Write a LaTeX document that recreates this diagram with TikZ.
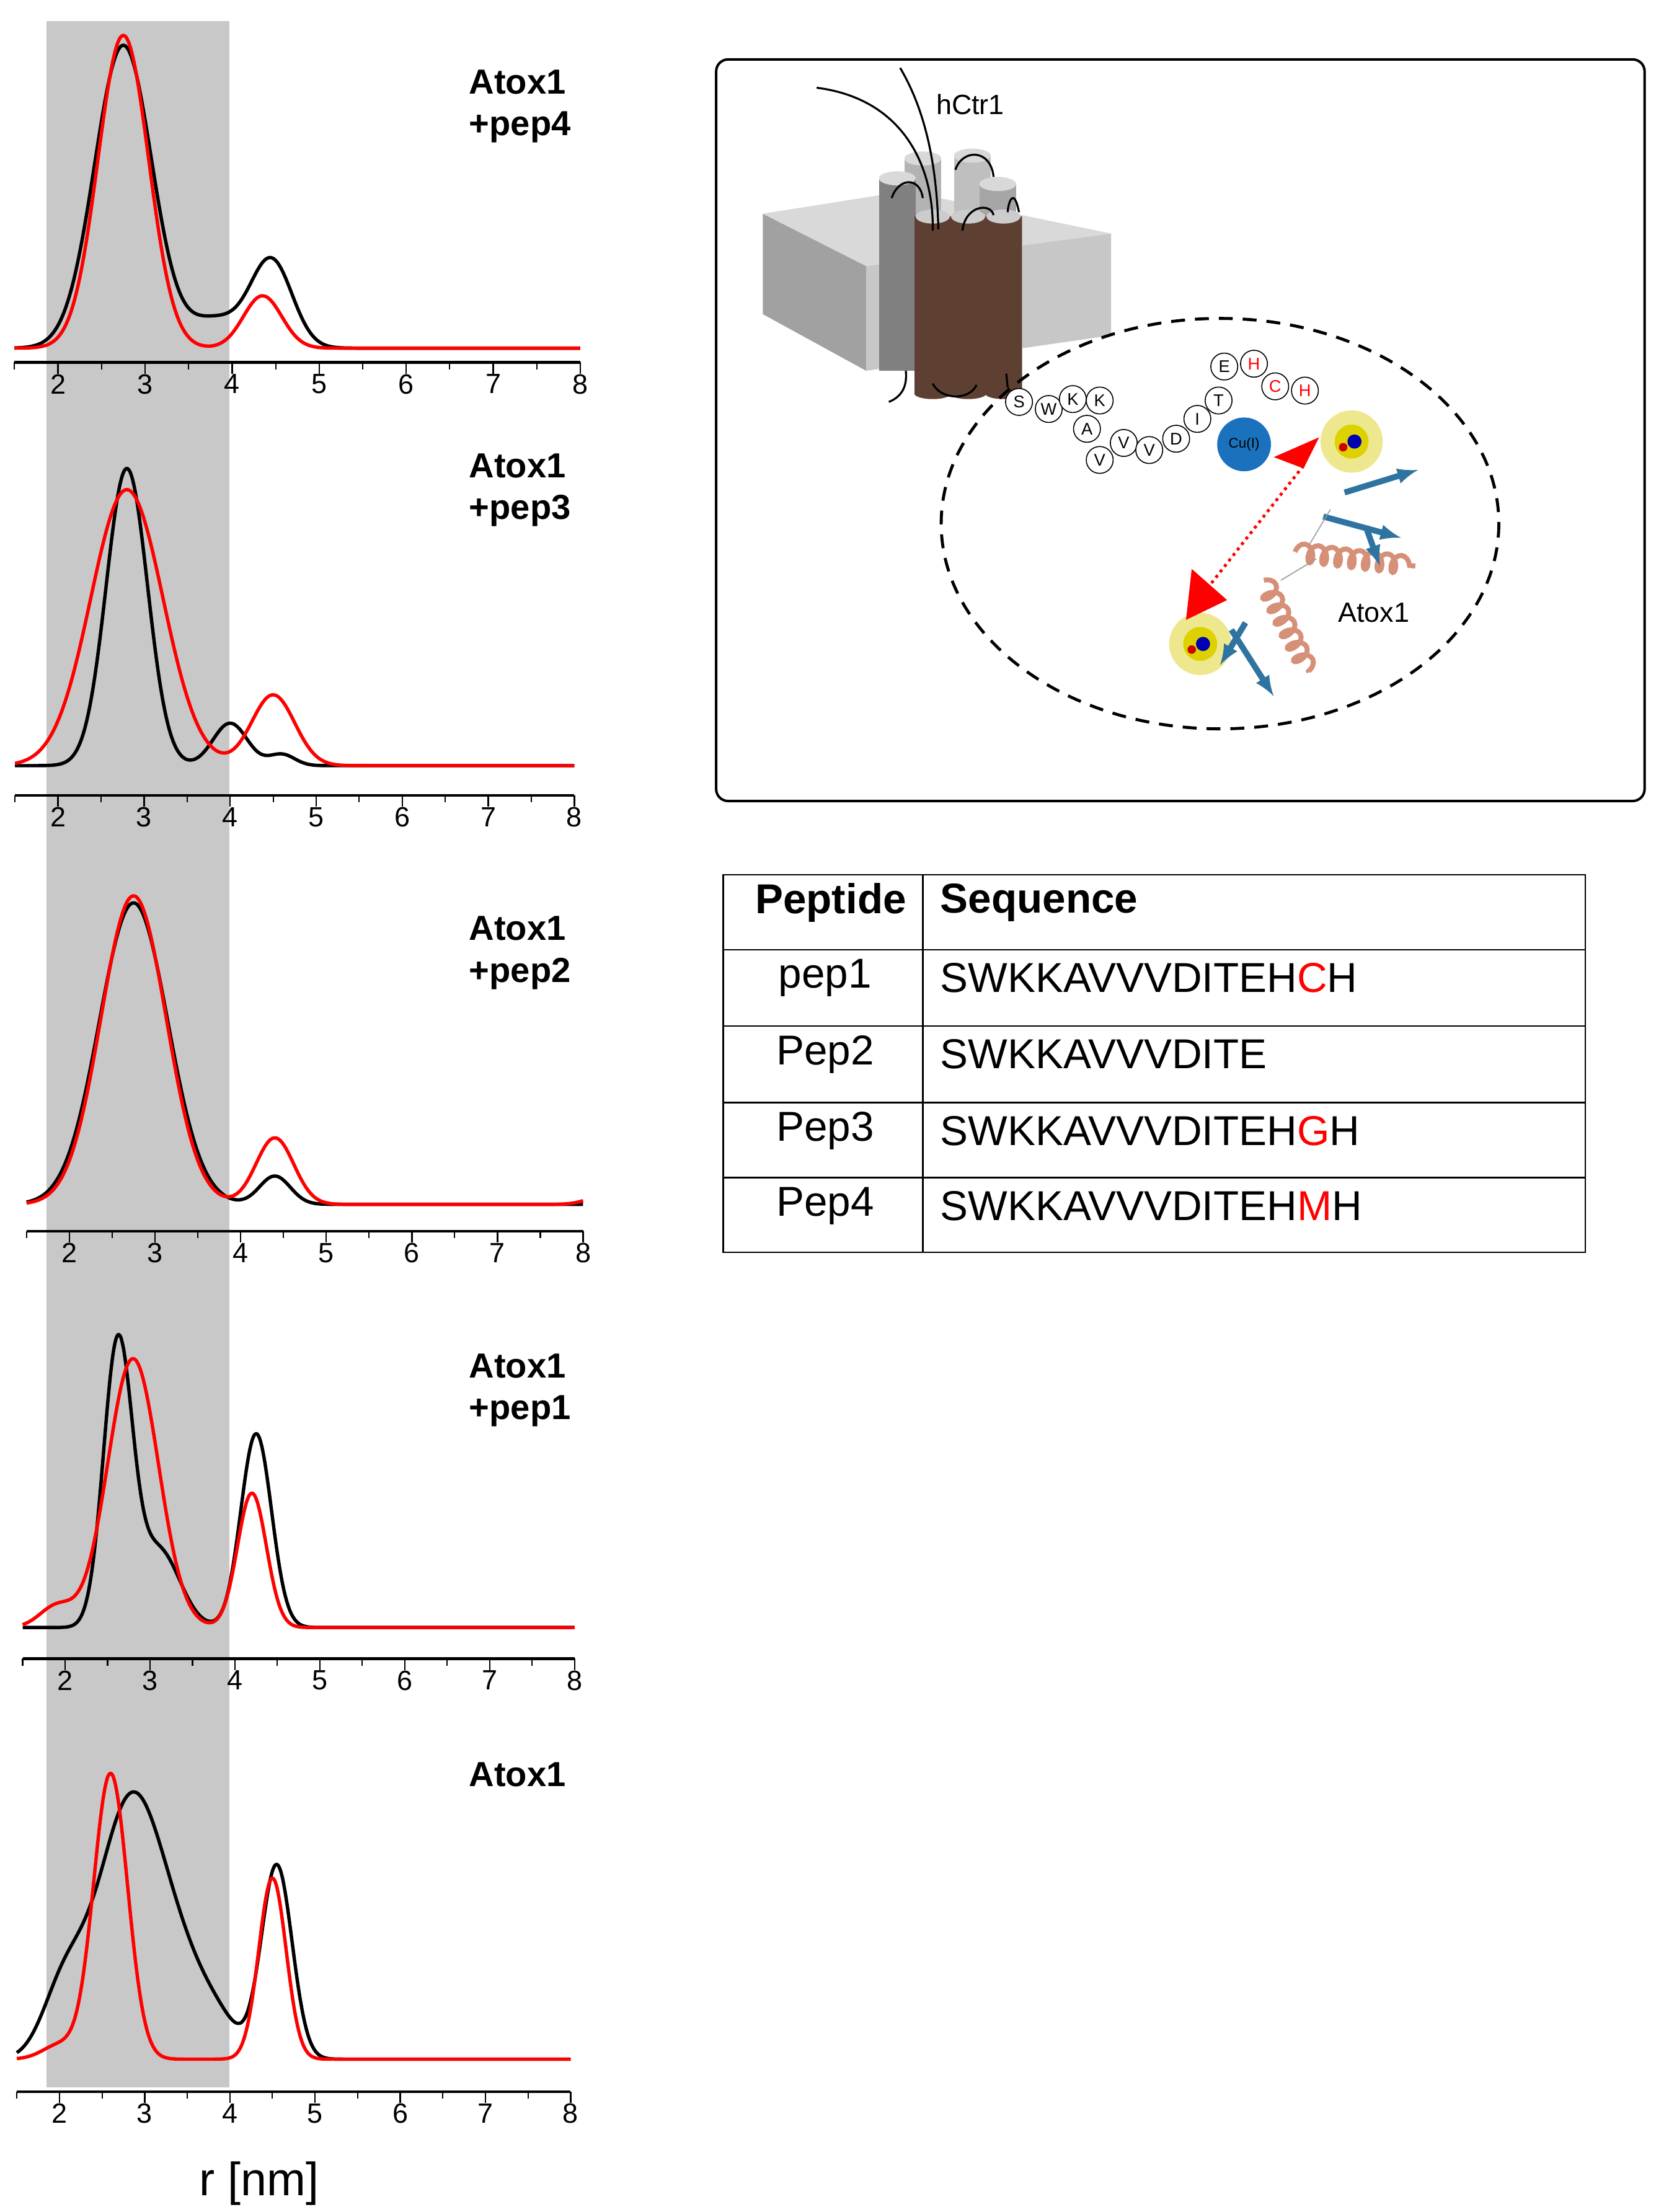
\documentclass[tikz,border=0pt]{standalone}
\usepackage{fontspec}
\setmainfont{Liberation Sans}
\usetikzlibrary{decorations.pathmorphing}
\begin{document}
\begin{tikzpicture}[x=0.05cm,y=-0.05cm,
  declare function={g(\x,\m,\s)=exp(-((\x-\m)*(\x-\m))/(2*\s*\s));},
  blk/.style={line width=3.4pt,black,line join=round},
  rd/.style={line width=3.4pt,red,line join=round},
  lab/.style={font=\fontsize{35}{42}\selectfont\bfseries,align=left,anchor=north west},
  tick/.style={font=\fontsize{28}{30}\selectfont},
  cell/.style={font=\fontsize{42}{46}\selectfont},
  aa/.style={circle,draw,line width=1pt,minimum size=19*0.05cm,inner sep=0pt,font=\fontsize{17}{18}\selectfont},
  coilh/.style={draw=salmon,line width=5pt,decorate,decoration={coil,aspect=0.6,segment length=14pt,amplitude=9pt}},
  sheet/.style={draw=sheetblue,line width=6pt,-latex}]
\definecolor{band}{HTML}{C8C8C8}
\definecolor{brown1}{HTML}{5E4032}
\definecolor{salmon}{HTML}{D69078}
\definecolor{sheetblue}{HTML}{2F74A0}
\definecolor{cublue}{HTML}{1A72BE}
\definecolor{cyA}{HTML}{B3B3B3}
\definecolor{cyB}{HTML}{BFBFBF}
\definecolor{cyC}{HTML}{808080}
\definecolor{cyD}{HTML}{A6A6A6}
\definecolor{cyT}{HTML}{D9D9D9}
\useasboundingbox (0,0) rectangle (1170,1563);
\fill[band] (33,15) rectangle (162,1475);
\newcommand{\drpanel}[6]{%
 \begin{scope}[shift={({#3-2*#4},#1)},x={(#4*0.05cm,0)}]
  \draw[line width=2.8pt] (1.5,#2) -- (8,#2);
  \foreach \t in {2,...,8} {\draw[line width=1.5pt] (\t,#2) -- (\t,#2+8);
    \node[tick,anchor=north] (tk\t) at (\t,#2+6) {\t};}
  \foreach \t in {1.5,2.5,...,7.5} \draw[line width=1.3pt] (\t,#2) -- (\t,#2+5);
  \draw[blk] plot[domain=1.5:8,samples=220,smooth] (\x,{-(#5)});
  \draw[rd] plot[domain=1.5:8,samples=220,smooth] (\x,{-(#6)});
 \end{scope}}
\drpanel{246}{10}{41}{61.5}{214*g(\x,2.75,0.33)+20*g(\x,3.8,0.3)+62*g(\x,4.45,0.24)}{221*g(\x,2.75,0.29)+37*g(\x,4.35,0.22)}
\drpanel{541}{21}{41}{60.8}{210*g(\x,2.8,0.24)+30*g(\x,4.0,0.2)+8*g(\x,4.6,0.15)}{195*g(\x,2.8,0.42)+50*g(\x,4.5,0.25)}
\drpanel{851}{19}{49}{60.5}{213*g(\x,2.75,0.4)+20*g(\x,4.4,0.18)}{218*g(\x,2.75,0.38)+47*g(\x,4.4,0.22)+8*g(\x,8.3,0.2)}
\drpanel{1150}{22}{46}{60}{198*g(\x,2.62,0.17)+55*g(\x,3.1,0.25)+137*g(\x,4.25,0.18)}{190*g(\x,2.8,0.3)+15*g(\x,1.9,0.2)+95*g(\x,4.2,0.17)}
\drpanel{1455}{23}{42}{60.2}{185*g(\x,2.85,0.4)+45*g(\x,2.05,0.25)+35*g(\x,3.5,0.3)+18*g(\x,3.9,0.25)+137*g(\x,4.55,0.18)}{202*g(\x,2.6,0.2)+10*g(\x,2.0,0.2)+128*g(\x,4.5,0.16)}
\node[lab] (l4) at (329,47) {Atox1\\+pep4};
\node[lab] (l3) at (329,318) {Atox1\\+pep3};
\node[lab] (l2) at (329,645) {Atox1\\+pep2};
\node[lab] (l1) at (329,954) {Atox1\\+pep1};
\node[lab] (l0) at (329,1243) {Atox1};
\node[font=\fontsize{47}{50}\selectfont] (rnm) at (183,1543) {r [nm]};
% ---- illustration box
\draw[line width=2.5pt,rounded corners=12pt] (506,42) rectangle (1162,566);
\fill[black!37] (539,151) -- (539,222) -- (612,262) -- (612,188) -- cycle;
\fill[black!22] (612,188) -- (785,165) -- (785,237) -- (612,262) -- cycle;
\fill[black!15] (539,151) -- (640,135) -- (785,165) -- (612,188) -- cycle;
% back grey cylinders
\foreach \cx/\ty/\col in {652/112/cyA,687/110/cyB,634/126/cyC,705/130/cyD}{
  \fill[\col] (\cx-13,\ty) rectangle (\cx+13,262);
  \fill[cyT] (\cx,\ty) ellipse (13 and 5);}
% brown cylinders
\foreach \cx in {659,684,709}{
  \fill[brown1] (\cx-13,153) rectangle (\cx+13,278);
  \fill[brown1] (\cx,278) ellipse (13 and 4);
  \draw[black!40,line width=0.6pt] (\cx+13,153) -- (\cx+13,278);
  \fill[black!20] (\cx,153) ellipse (12 and 5);}
\draw[line width=2pt] (577,62) .. controls (640,70) and (660,120) .. (659,163);
\draw[line width=2pt] (636,48) .. controls (655,80) and (662,120) .. (663,162);
\draw[line width=2pt] (630,140) .. controls (635,125) and (650,125) .. (652,140);
\draw[line width=2pt] (675,120) .. controls (680,105) and (700,105) .. (702,125);
\draw[line width=2pt] (680,163) .. controls (682,145) and (700,143) .. (702,152);
\draw[line width=2pt] (712,150) .. controls (712,145) and (716,130) .. (720,150);
\draw[line width=2pt] (659,271) .. controls (665,283) and (685,283) .. (690,272);
\draw[line width=2pt] (640,262) .. controls (641,272) and (638,280) .. (628,284);
\draw[line width=2pt] (711,264) -- (712,274);
\node[font=\fontsize{28}{30}\selectfont,anchor=west] (hctr) at (659,74) {hCtr1};
% dashed ellipse
\draw[line width=3pt,dash pattern=on 14pt off 10pt] (862,370) ellipse (197 and 145);
% peptide
\foreach \n/\px/\py/\c in {S/720/284/black,W/741/289/black,K/758/282/black,K/777/283/black,A/768/303/black,V/777/325/black,V/794/313/black,V/812/318/black,D/831/310/black,I/846/296/black,T/861/283/black,E/865/259/black,H/886/257/red,C/901/273/red,H/922/276/red}
  \node[aa,fill=white,text=\c] at (\px,\py) {\n};
\node[circle,fill=cublue,minimum size=38*0.05cm,inner sep=0pt,font=\fontsize{14}{15}\selectfont] (cu) at (879,314) {Cu(I)};
% protein
\foreach \px/\py in {955/312,848/455}{
  \fill[yellow!60!olive!40] (\px,\py) circle (22);
  \fill[yellow!70!olive] (\px,\py) circle (12);
  \fill[blue!70!black] (\px+2,\py) circle (5);
  \fill[red!80!black] (\px-6,\py+4) circle (3);}
\draw[coilh] (915,390) -- (1000,400);
\draw[coilh] (893,410) -- (925,475);
\draw[sheet] (950,348) -- (1002,332);
\draw[sheet] (935,365) -- (990,380);
\draw[sheet] (965,372) -- (975,400);
\draw[sheet] (870,445) -- (900,492);
\draw[sheet] (880,440) -- (862,470);
\draw[line width=1pt,black!40] (925,385) -- (940,360) (905,410) -- (930,395);
\coordinate (a1) at (921,329);
\coordinate (a2) at (845,426);
\draw[red,line width=3pt,dash pattern=on 3pt off 4pt] (a1) -- (a2);
\fill[red] (900,323) -- (932,309) -- (921,331) -- cycle;
\fill[red] (838,438) -- (842,402) -- (867,424) -- cycle;
\node[font=\fontsize{28}{30}\selectfont,anchor=west] (atx) at (943,433) {Atox1};
% table
\draw[line width=1.5pt] (511,618) rectangle (1120,885);
\draw[line width=1.5pt] (652,618) -- (652,885);
\foreach \yy in {671,725,779,832} \draw[line width=1.5pt] (511,\yy) -- (1120,\yy);
\node[cell,font=\fontsize{42}{46}\selectfont\bfseries] (h1) at (587,638) {Peptide};
\node[cell,font=\fontsize{42}{46}\selectfont\bfseries,anchor=west] (h2) at (662,638) {Sequence};
\node[cell] (p1) at (583,691) {pep1};
\node[cell] (p2) at (583,745) {Pep2};
\node[cell] (p3) at (583,799) {Pep3};
\node[cell] (p4) at (583,852) {Pep4};
\node[cell,anchor=west] (s1) at (662,691) {SWKKAVVVDITEH\textcolor{red}{C}H};
\node[cell,anchor=west] (s2) at (662,745) {SWKKAVVVDITE};
\node[cell,anchor=west] (s3) at (662,799) {SWKKAVVVDITEH\textcolor{red}{G}H};
\node[cell,anchor=west] (s4) at (662,852) {SWKKAVVVDITEH\textcolor{red}{M}H};
\end{tikzpicture}
\end{document}
